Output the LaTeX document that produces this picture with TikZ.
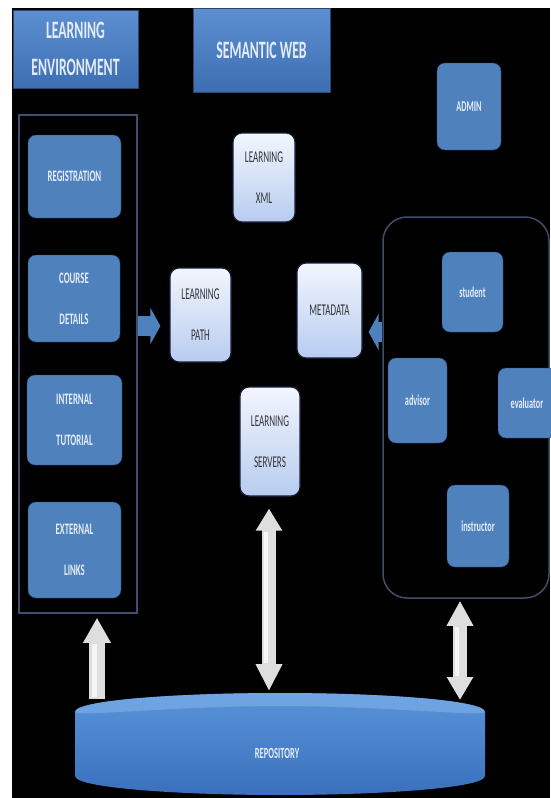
\documentclass[tikz,border=0pt]{standalone}
\usepackage{fontspec}
\newfontfamily\diagfont[FakeStretch=0.55]{Carlito}
\definecolor{semBlue}{RGB}{79,129,189}
\definecolor{semBlueTop}{RGB}{92,143,210}
\definecolor{semBlueBot}{RGB}{62,110,178}
\definecolor{semEdge}{RGB}{44,70,112}
\definecolor{semText}{RGB}{228,236,248}
\definecolor{lightTop}{RGB}{242,246,253}
\definecolor{lightBot}{RGB}{184,204,240}
\definecolor{lightEdge}{RGB}{22,30,58}
\definecolor{darkText}{RGB}{52,52,58}
\definecolor{frameCol}{RGB}{62,78,108}
\definecolor{arrowGray}{RGB}{222,222,222}
\definecolor{arrowLight}{RGB}{246,246,246}
\definecolor{repoTop}{RGB}{88,148,218}
\definecolor{repoBot}{RGB}{58,112,188}
\definecolor{repoLip}{RGB}{128,176,232}
\usetikzlibrary{arrows.meta, calc}

\begin{document}
\begin{tikzpicture}[x=1pt, y=-1pt,
  every node/.style={inner sep=0pt, align=center},
  titlebox/.style={draw=semEdge, top color=semBlueTop, bottom color=semBlueBot, text=semText, font=\diagfont\bfseries\fontsize{25}{37}\selectfont},
  bluebox/.style={draw=semEdge, fill=semBlue, rounded corners=8pt, text=semText, font=\diagfont\bfseries\fontsize{16}{41}\selectfont},
  rolebox/.style={bluebox, font=\diagfont\bfseries\fontsize{15}{18}\selectfont},
  lightbox/.style={draw=lightEdge, line width=1.2pt, top color=lightTop, bottom color=lightBot, rounded corners=9pt, text=darkText, font=\diagfont\fontsize{16.5}{41}\selectfont},
  frame/.style={draw=frameCol, line width=1.5pt},
  greyflow/.style={draw=arrowGray, line width=#1},
  blueflow/.style={draw=semBlue, line width=20pt, -{Triangle[length=10pt 0 0, width=36pt 0 0]}}
]
  \useasboundingbox (0,0) rectangle (550,798);
  \fill[white] (0,0) rectangle (550,798);
  \fill[black] (12,8) rectangle (550,798);

  % headings
  \node[titlebox, minimum width=125, minimum height=78] (env) at (75.5,49) {LEARNING\\ENVIRONMENT};
  \node[titlebox, minimum width=137, minimum height=84] (semweb) at (261.5,50) {SEMANTIC WEB};
  \node[rolebox, minimum width=64, minimum height=87] (admin) at (469,106.5) {ADMIN};

  % containers
  \node[frame, minimum width=118, minimum height=498] (leftc) at (78,364) {};
  \node[frame, rounded corners=24pt, minimum width=166, minimum height=381] (rightc) at (466,407.5) {};

  % learning environment
  \node[bluebox, minimum width=93, minimum height=83] (reg) at (74.5,176.5) {REGISTRATION};
  \node[bluebox, minimum width=92, minimum height=87] (course) at (74,298.5) {COURSE\\DETAILS};
  \node[bluebox, minimum width=95, minimum height=90] (internal) at (74.5,420) {INTERNAL\\TUTORIAL};
  \node[bluebox, minimum width=93, minimum height=96] (external) at (74.5,550) {EXTERNAL\\LINKS};

  % semantic web
  \node[lightbox, minimum width=62, minimum height=89] (lxml) at (264,177.5) {LEARNING\\XML};
  \node[lightbox, minimum width=61, minimum height=94] (lpath) at (200.5,315) {LEARNING\\PATH};
  \node[lightbox, minimum width=65, minimum height=95] (meta) at (329.5,310.5) {METADATA};
  \node[lightbox, minimum width=60, minimum height=109] (servers) at (270,441.5) {LEARNING\\SERVERS};

  % users
  \node[rolebox, minimum width=61, minimum height=80] (student) at (472.5,292) {student};
  \node[rolebox, minimum width=59, minimum height=85] (advisor) at (417.5,400.5) {advisor};
  \node[rolebox, minimum width=58, minimum height=70] (evaluator) at (527,403) {evaluator};
  \node[rolebox, minimum width=62, minimum height=82] (instructor) at (478,526) {instructor};

  % repository
  \fill[top color=repoTop, bottom color=repoBot] (75,712) .. controls (75,700) and (180,693) .. (280,693) .. controls (380,693) and (485,700) .. (485,712) -- (485,776) .. controls (485,788) and (380,795) .. (280,795) .. controls (180,795) and (75,788) .. (75,776) -- cycle;
  \fill[repoLip, opacity=0.6] (75,712) .. controls (75,700) and (180,693) .. (280,693) .. controls (380,693) and (485,700) .. (485,712) .. controls (485,717) and (380,706) .. (280,706) .. controls (180,706) and (75,717) .. (75,712) -- cycle;
  \node[text=semText, font=\diagfont\bfseries\fontsize{15.5}{18}\selectfont] (repo) at (277,753) {REPOSITORY};

  % flows
  \draw[blueflow] ($(leftc.east)+(0,-38)$) -- ($(lpath.west)+(-9,11)$);
  \draw[blueflow] ($(rightc.west)+(0,-75.5)$) -- ($(meta.east)+(6,21.5)$);

  \coordinate (upTip) at ($(leftc.south)+(19,4)$);
  \coordinate (upTail) at (97,699);
  \coordinate (srvTip) at ($(servers.south)+(-1,12)$);
  \coordinate (repoMid) at (269,691);
  \coordinate (roleTip) at ($(rightc.south)+(-6,2)$);
  \coordinate (repoRight) at (460,700);
  \draw[greyflow=16pt, -{Triangle[length=25pt 0 0, width=26pt 0 0]}] (upTail) -- (upTip);
  \draw[greyflow=14pt, {Triangle[length=22pt 0 0, width=25pt 0 0]}-{Triangle[length=27pt 0 0, width=25pt 0 0]}] (srvTip) -- (repoMid);
  \draw[greyflow=14pt, {Triangle[length=25pt 0 0, width=25pt 0 0]}-{Triangle[length=23pt 0 0, width=25pt 0 0]}] (roleTip) -- (repoRight);
  % light streak on the shafts
  \draw[arrowLight, line width=5pt] ($(upTail)+(-3,-2)$) -- ($(upTip)+(-3,26)$);
  \draw[arrowLight, line width=4pt] ($(srvTip)+(-3,23)$) -- ($(repoMid)+(-3,-28)$);
  \draw[arrowLight, line width=4pt] ($(roleTip)+(-3,26)$) -- ($(repoRight)+(-3,-24)$);
\end{tikzpicture}
\end{document}
